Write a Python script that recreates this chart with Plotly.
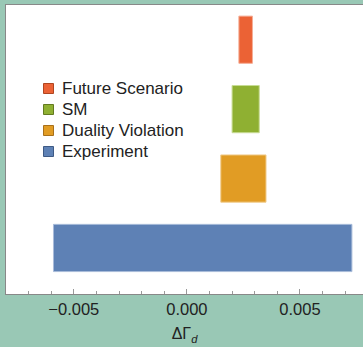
import plotly.graph_objects as go

# Constraint ranges on Delta Gamma_d, bottom row first
categories = ["Experiment", "Duality Violation", "SM", "Future Scenario"]
low = [-0.0059, 0.0015, 0.0020, 0.0023]
high = [0.0073, 0.0035, 0.0032, 0.0029]
colors = ["#5E81B5", "#E19C24", "#8FB032", "#EB6235"]
edges = ["#A9BCDA", "#F0CC8E", "#C8DC95", "#F5AE96"]
legend_edges = ["#3E5A85", "#A8701A", "#637A20", "#B04520"]

tick_vals = [-0.005, 0.0, 0.005]

W, H = 363, 347
ML, MR, MT, MB = 6, 0, 5, 53
PW, PH = W - ML - MR, H - MT - MB


def px_x(px):
    return (px - ML) / PW


def px_y(py):
    return (H - MB - py) / PH


fig = go.Figure()

fig.add_trace(go.Bar(
    y=list(range(len(categories))),
    x=[h - l for l, h in zip(low, high)],
    base=low,
    orientation="h",
    width=0.68,
    marker=dict(color=colors, line=dict(color=edges, width=1)),
    showlegend=False,
    hoverinfo="skip",
))

# hand-placed legend, top to bottom
shapes, annotations = [], []
row_top, row_gap = 88.5, 21
for k, i in enumerate(reversed(range(len(categories)))):
    cy = row_top + k * row_gap
    shapes.append(dict(
        type="rect", xref="paper", yref="paper",
        x0=px_x(43.5), x1=px_x(53.5), y0=px_y(cy + 5), y1=px_y(cy - 5),
        fillcolor=colors[i], line=dict(color=legend_edges[i], width=1),
    ))
    annotations.append(dict(
        xref="paper", yref="paper", x=px_x(59.5), y=px_y(cy),
        xanchor="left", yanchor="middle", showarrow=False,
        text=categories[i], font=dict(size=17, color="#222"),
    ))

fig.update_layout(
    width=W, height=H,
    margin=dict(l=ML, r=MR, t=MT, b=MB),
    paper_bgcolor="#99C8B5",
    plot_bgcolor="white",
    font=dict(family="Liberation Sans, Arial, sans-serif", size=15, color="#222"),
    showlegend=False,
    shapes=shapes,
    annotations=annotations,
    xaxis=dict(
        range=[-0.0080, 0.00779],
        tickvals=tick_vals, tickformat=".3f",
        ticks="inside", ticklen=5, tickcolor="#999", tickwidth=1,
        minor=dict(ticks="inside", ticklen=3, dtick=0.001, tickcolor="#999", showgrid=False),
        showline=True, linecolor="#888", linewidth=1, mirror=True,
        showgrid=False, zeroline=False,
        tickfont=dict(size=16.5, color="#222"),
        title=dict(text="ΔΓ<sub><i>d</i></sub>", font=dict(size=16, color="#222"), standoff=11),
    ),
    yaxis=dict(
        range=[-0.663, 3.5],
        showticklabels=False, ticks="",
        showline=True, linecolor="#888", linewidth=1,
        showgrid=False, zeroline=False,
    ),
)

fig.write_html("out.html")
